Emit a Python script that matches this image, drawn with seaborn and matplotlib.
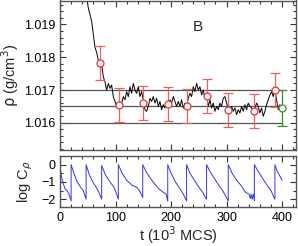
import numpy as np
import pandas as pd
import matplotlib
matplotlib.use("Agg")
import matplotlib.pyplot as plt
import seaborn as sns
from matplotlib.ticker import MultipleLocator

# --- density trace (t in 10^3 MCS, rho in g/cm^3) ---
trace_t = [45, 48, 51, 54, 57, 60, 63, 66, 69, 72, 75, 78, 81, 84, 87, 90, 93, 96, 99,
           102, 105, 108, 111, 114, 117, 120, 123, 126, 129, 132, 135, 138, 141, 144, 147,
           150, 153, 156, 159, 162, 165, 168, 171, 174, 177, 180, 183, 186, 189, 192, 195,
           198, 201, 204, 207, 210, 213, 216, 219, 222, 225, 228, 231, 234, 237, 240, 243,
           246, 249, 252, 255, 258, 261, 264, 267, 270, 273, 276, 279, 282, 285, 288, 291,
           294, 297, 300, 303, 306, 309, 312, 315, 318, 321, 324, 327, 330, 333, 336, 339,
           342, 345, 348, 351, 354, 357, 360, 363, 366, 369, 372, 375, 378, 381, 384, 387,
           390, 393, 396, 399]
trace_rho = [1.02000, 1.01985, 1.01950, 1.01930, 1.01910, 1.01870, 1.01830, 1.01815,
             1.01790, 1.01775, 1.01778, 1.01740, 1.01725, 1.01700, 1.01720, 1.01705,
             1.01715, 1.01680, 1.01665, 1.01650, 1.01660, 1.01645, 1.01660, 1.01680,
             1.01670, 1.01695, 1.01680, 1.01710, 1.01690, 1.01720, 1.01700, 1.01690,
             1.01710, 1.01680, 1.01695, 1.01670, 1.01640, 1.01635, 1.01650, 1.01675,
             1.01665, 1.01680, 1.01660, 1.01675, 1.01650, 1.01665, 1.01640, 1.01655,
             1.01645, 1.01660, 1.01650, 1.01670, 1.01660, 1.01680, 1.01665, 1.01650,
             1.01665, 1.01650, 1.01670, 1.01645, 1.01660, 1.01650, 1.01675, 1.01690,
             1.01680, 1.01710, 1.01695, 1.01720, 1.01700, 1.01710, 1.01685, 1.01700,
             1.01675, 1.01685, 1.01650, 1.01670, 1.01645, 1.01660, 1.01635, 1.01650,
             1.01640, 1.01660, 1.01650, 1.01675, 1.01680, 1.01660, 1.01640, 1.01630,
             1.01650, 1.01635, 1.01645, 1.01625, 1.01640, 1.01630, 1.01650, 1.01635,
             1.01655, 1.01640, 1.01660, 1.01650, 1.01645, 1.01630, 1.01645, 1.01660,
             1.01650, 1.01630, 1.01645, 1.01620, 1.01635, 1.01655, 1.01670, 1.01685,
             1.01695, 1.01680, 1.01700, 1.01670, 1.01640, 1.01655, 1.01645]

# --- block averages with error bars ---
block_t = [72, 106, 150, 194, 229, 264, 303, 350, 387]
block_rho = [1.01782, 1.01655, 1.01660, 1.01656, 1.01651, 1.01681, 1.01638, 1.01635, 1.01699]
block_err = [0.00052, 0.00052, 0.00052, 0.00052, 0.00052, 0.00052, 0.00052, 0.00052, 0.00052]

final_t = [400]
final_rho = [1.01645]
final_err = [0.00055]

ref_levels = [1.0160, 1.0165, 1.0170]

# --- autocorrelation log C_rho ---
corr_t = [0, 1, 2, 5, 9, 13, 16, 20,
          20, 25, 31, 37, 42, 47,
          47, 53, 59, 65, 70, 75,
          75, 82, 90, 97, 102, 105,
          105, 112, 120, 130, 138, 143, 149,
          149, 155, 163, 170, 178, 186, 191, 194,
          194, 200, 208, 216, 222, 228,
          228, 234, 242, 250, 257, 262, 264,
          264, 270, 278, 286, 293, 298, 303,
          303, 310, 318, 326, 334, 340, 343, 344, 346, 348, 350,
          350, 357, 365, 373, 380, 384, 387,
          387, 390, 395, 400]
corr_log = [0.0, -0.3, -0.6, -1.0, -1.4, -1.5, -1.7, -2.1,
            0.0, -0.5, -1.0, -1.3, -1.5, -2.0,
            0.0, -0.6, -1.0, -1.3, -1.6, -2.0,
            -0.05, -0.6, -1.0, -1.3, -1.7, -2.0,
            0.0, -0.5, -0.9, -1.2, -1.3, -1.5, -1.9,
            0.0, -0.4, -0.8, -1.1, -1.4, -1.6, -1.7, -2.1,
            0.0, -0.5, -1.0, -1.4, -1.7, -2.1,
            0.0, -0.5, -0.9, -1.3, -1.6, -1.9, -2.0,
            0.0, -0.4, -0.8, -1.2, -1.5, -1.8, -2.1,
            0.0, -0.5, -0.9, -1.2, -1.6, -1.7, -1.95, -1.7, -2.0, -1.7, -2.1,
            0.0, -0.4, -0.8, -1.2, -1.5, -1.8, -2.0,
            0.0, -0.3, -0.6, -0.9]


def style_axis(ax):
    ax.tick_params(which="both", direction="in", top=True, right=True,
                   labelsize=9, width=0.8, colors="#333333", labelcolor="black")
    ax.tick_params(which="major", length=4)
    ax.tick_params(which="minor", length=2)
    for s in ax.spines.values():
        s.set_color("#555555")
        s.set_linewidth(1.0)
    ax.xaxis.set_major_locator(MultipleLocator(100))
    ax.xaxis.set_minor_locator(MultipleLocator(20))


def main():
    sns.set_style("ticks")
    plt.rcParams["font.family"] = ["Liberation Sans", "DejaVu Sans"]

    fig = plt.figure(figsize=(2.98, 2.46), dpi=100)
    ax1 = fig.add_axes([60 / 298, 1 - 150 / 246, 236 / 298, 149.5 / 246])
    ax2 = fig.add_axes([60 / 298, 1 - 207 / 246, 236 / 298, 51 / 246])

    # top panel
    df_trace = pd.DataFrame({"t": trace_t, "rho": trace_rho})
    ax1.hlines(ref_levels, 0, 400, colors="#555555", linewidth=0.9, zorder=1)
    sns.lineplot(data=df_trace, x="t", y="rho", ax=ax1, color="black",
                 linewidth=0.7, zorder=2)
    ax1.errorbar(block_t, block_rho, yerr=block_err, fmt="o", color="#f06060",
                 mfc="white", mec="#f03030", ms=5, mew=0.9, elinewidth=0.9,
                 capsize=3.5, capthick=0.9, zorder=3)
    ax1.errorbar(final_t, final_rho, yerr=final_err, fmt="o", color="#3a8a2a",
                 mfc="white", mec="#3a8a2a", ms=5, mew=0.9, elinewidth=0.9,
                 capsize=3.5, capthick=0.9, zorder=3)
    ax1.set_xlim(0, 425)
    ax1.set_ylim(1.01517, 1.01973)
    style_axis(ax1)
    ax1.yaxis.set_major_locator(MultipleLocator(0.001))
    ax1.yaxis.set_minor_locator(MultipleLocator(0.0002))
    ax1.yaxis.set_major_formatter(plt.FormatStrFormatter("%.3f"))
    ax1.tick_params(labelbottom=False)
    ax1.set_xlabel("")
    ax1.set_ylabel(r"$\mathrm{\rho}$ (g/cm$^3$)", fontsize=10.5)
    ax1.yaxis.set_label_coords(-0.165, 0.5)
    ax1.text(248, 1.01893, "B", fontsize=11, ha="center", va="center")

    # bottom panel
    df_corr = pd.DataFrame({"t": corr_t, "logC": corr_log})
    sns.lineplot(data=df_corr, x="t", y="logC", ax=ax2, color="#3333ee",
                 linewidth=0.7, sort=False, estimator=None)
    ax2.set_xlim(0, 425)
    ax2.set_ylim(-2.45, 0.5)
    style_axis(ax2)
    ax2.yaxis.set_major_locator(MultipleLocator(1))
    ax2.yaxis.set_minor_locator(MultipleLocator(0.5))
    ax2.set_xlabel(r"t (10$^3$ MCS)", fontsize=10.5, labelpad=0)
    ax2.set_ylabel(r"log C$_\rho$", fontsize=10.5)
    ax2.yaxis.set_label_coords(-0.105, 0.5)

    fig.savefig("out.png", dpi=100)


if __name__ == "__main__":
    main()
